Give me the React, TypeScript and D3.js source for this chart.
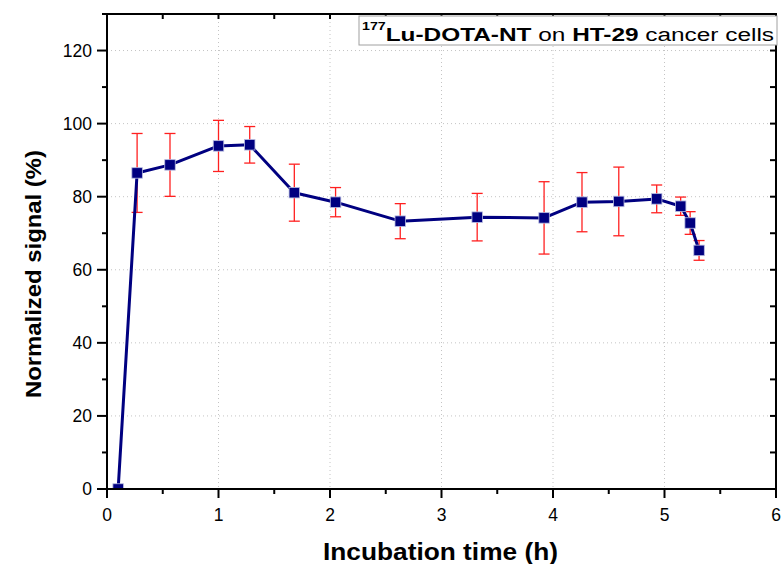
import React from "react";
import * as d3 from "d3";

const timeH = [0.1, 0.27, 0.565, 1.0, 1.28, 1.68, 2.05, 2.63, 3.32, 3.92, 4.26, 4.59, 4.93, 5.145, 5.23, 5.31];
const signal = [0, 86.5, 88.7, 93.9, 94.2, 81.1, 78.5, 73.3, 74.4, 74.2, 78.5, 78.7, 79.4, 77.4, 72.8, 65.3];
const signalErr = [0, 10.8, 8.6, 7.0, 5.0, 7.8, 4.0, 4.8, 6.5, 9.9, 8.1, 9.4, 3.8, 2.5, 3.1, 2.7];
const xTicks = [0, 1, 2, 3, 4, 5, 6];
const xMinor = [0.5, 1.5, 2.5, 3.5, 4.5, 5.5];
const yTicks = [0, 20, 40, 60, 80, 100, 120];
const yMinor = [10, 30, 50, 70, 90, 110, 130];

const W = 782;
const H = 564;
const L = 107, R = 776, T = 14, B = 489;

export default function App() {
  const x = d3.scaleLinear().domain([0, 6]).range([L, R]);
  const y = d3.scaleLinear().domain([0, 130]).range([B, T]);
  const pts = timeH.map((t, i) => ({ t, v: signal[i], e: signalErr[i] }));
  const line = d3.line<any>().x(d => x(d.t)).y(d => y(d.v));
  const font = "'Liberation Sans', Arial, sans-serif";
  const navy = "#000080";
  const red = "#ff2020";
  const ms = 10.5;

  return (
    <svg width={W} height={H} style={{ position: "absolute", left: 0, top: 0, background: "#fff" }} fontFamily={font}>
      <defs>
        <clipPath id="plotclip">
          <rect x={L} y={T} width={R - L} height={B - T} />
        </clipPath>
      </defs>
      <rect x={0} y={0} width={W} height={H} fill="#fff" />
      {/* grid */}
      {xTicks.filter(v => v > 0 && v < 6).map(v => (
        <line key={"gx" + v} x1={x(v)} x2={x(v)} y1={T} y2={B} stroke="#c4c4c4" strokeWidth={1} strokeDasharray="1,3" />
      ))}
      {yTicks.filter(v => v > 0).map(v => (
        <line key={"gy" + v} x1={L} x2={R} y1={y(v)} y2={y(v)} stroke="#c4c4c4" strokeWidth={1} strokeDasharray="1,3" />
      ))}
      {/* data */}
      <g clipPath="url(#plotclip)">
        {pts.filter(p => p.e > 0).map((p, i) => (
          <g key={"eb" + i} stroke={red} strokeWidth={1.3}>
            <line x1={x(p.t)} x2={x(p.t)} y1={y(p.v + p.e)} y2={y(p.v - p.e)} />
            <line x1={x(p.t) - 5.5} x2={x(p.t) + 5.5} y1={y(p.v + p.e)} y2={y(p.v + p.e)} />
            <line x1={x(p.t) - 5.5} x2={x(p.t) + 5.5} y1={y(p.v - p.e)} y2={y(p.v - p.e)} />
          </g>
        ))}
        <path d={line(pts) || ""} fill="none" stroke={navy} strokeWidth={3} strokeLinejoin="round" />
        {pts.map((p, i) => (
          <rect key={"m" + i} x={x(p.t) - ms / 2} y={y(p.v) - ms / 2} width={ms} height={ms} fill={navy} stroke="#b8bce0" strokeWidth={0.8} />
        ))}
      </g>
      {/* frame */}
      <rect x={L} y={T} width={R - L} height={B - T} fill="none" stroke="#000" strokeWidth={2} />
      {/* bottom axis ticks */}
      {xTicks.map(v => (
        <line key={"bx" + v} x1={x(v)} x2={x(v)} y1={B} y2={B + 9} stroke="#000" strokeWidth={2} />
      ))}
      {xMinor.map(v => (
        <line key={"bxm" + v} x1={x(v)} x2={x(v)} y1={B} y2={B + 5} stroke="#000" strokeWidth={2} />
      ))}
      {/* top axis ticks (inward) */}
      {xTicks.concat(xMinor).map(v => (
        <line key={"tx" + v} x1={x(v)} x2={x(v)} y1={T} y2={T + 5} stroke="#000" strokeWidth={2} />
      ))}
      {/* left axis ticks */}
      {yTicks.map(v => (
        <line key={"ly" + v} x1={L - 10} x2={L} y1={y(v)} y2={y(v)} stroke="#000" strokeWidth={2} />
      ))}
      {yMinor.map(v => (
        <line key={"lym" + v} x1={L - 5} x2={L} y1={y(v)} y2={y(v)} stroke="#000" strokeWidth={2} />
      ))}
      {/* right axis ticks (inward) */}
      {yTicks.concat(yMinor).map(v => (
        <line key={"ry" + v} x1={R - 6} x2={R} y1={y(v)} y2={y(v)} stroke="#000" strokeWidth={2} />
      ))}
      {/* tick labels */}
      {xTicks.map(v => (
        <text key={"xl" + v} x={x(v)} y={521} textAnchor="middle" fontSize={17.5} fill="#000">{v}</text>
      ))}
      {yTicks.map(v => (
        <text key={"yl" + v} x={92} y={y(v) + 6} textAnchor="end" fontSize={17.5} fill="#000">{v}</text>
      ))}
      {/* axis titles */}
      <text x={323} y={560} fontSize={23.3} fontWeight="bold" fill="#000" textLength={235} lengthAdjust="spacingAndGlyphs">Incubation time (h)</text>
      <text transform={`translate(41,398) rotate(-90)`} fontSize={22.5} fontWeight="bold" fill="#000" textLength={248} lengthAdjust="spacingAndGlyphs">Normalized signal (%)</text>
      {/* legend */}
      <rect x={359} y={16} width={418} height={29} fill="#fff" stroke="#a0a0a0" strokeWidth={1} />
      <text x={362} y={41} fontSize={18} fill="#000" textLength={412} lengthAdjust="spacingAndGlyphs">
        <tspan fontSize={10.5} fontWeight="bold" dy={-11}>177</tspan>
        <tspan fontWeight="bold" dy={11}>Lu-DOTA-NT</tspan>
        <tspan> on </tspan>
        <tspan fontWeight="bold">HT-29</tspan>
        <tspan> cancer cells</tspan>
      </text>
    </svg>
  );
}
